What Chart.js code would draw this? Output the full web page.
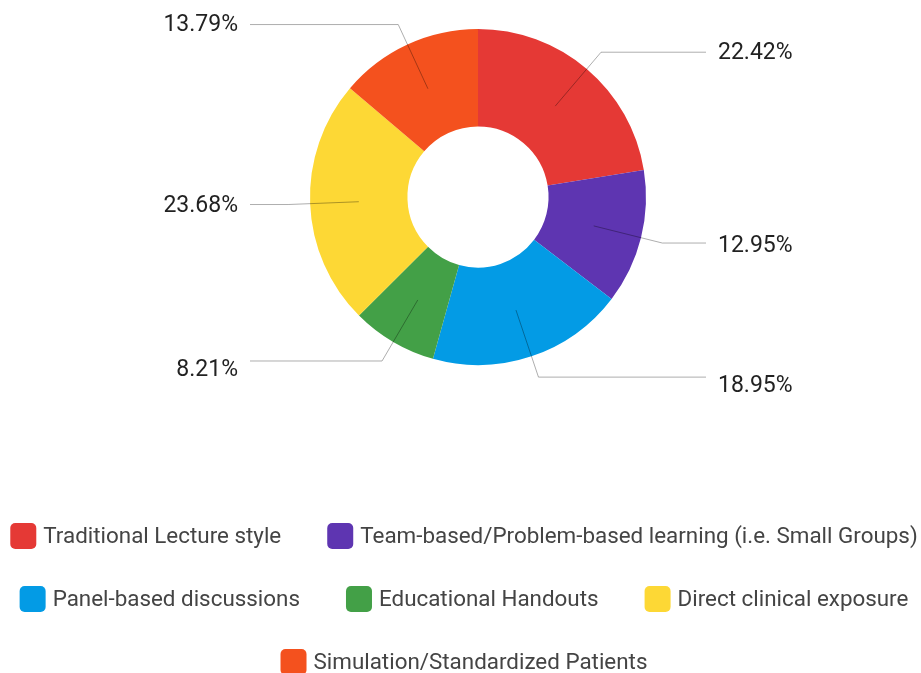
<!DOCTYPE html>
<html><head><meta charset="utf-8">
<script src="https://cdn.jsdelivr.net/npm/chart.js@4"></script>
<style>html,body{margin:0;padding:0;background:#fff;overflow:hidden;} #wrap{width:921px;height:673px;position:relative;}</style>
</head><body><div id="wrap"><canvas id="c" width="921" height="673"></canvas></div>
<script>
const categories = [
  'Traditional Lecture style',
  'Team-based/Problem-based learning (i.e. Small Groups)',
  'Panel-based discussions',
  'Educational Handouts',
  'Direct clinical exposure',
  'Simulation/Standardized Patients'
];
const values = [22.42, 12.95, 18.95, 8.21, 23.68, 13.79];
const colors = ['#E53935', '#5E35B1', '#039BE5', '#43A047', '#FDD835', '#F4511E'];

const LABEL_FONT = '23px Roboto';
const LEGEND_FONT = '22.4px Roboto';

const leaderLabels = {
  id: 'leaderLabels',
  afterDatasetsDraw(chart) {
    const ctx = chart.ctx;
    const meta = chart.getDatasetMeta(0);
    const data = chart.data.datasets[0].data;
    const total = data.reduce((a, b) => a + b, 0);
    ctx.save();
    meta.data.forEach((arc, i) => {
      const p = arc.getProps(['x', 'y', 'startAngle', 'endAngle', 'innerRadius', 'outerRadius'], true);
      const mid = (p.startAngle + p.endAngle) / 2;
      const rIn = (p.innerRadius + p.outerRadius) / 2;
      const rEl = p.outerRadius + 22;
      const sx = p.x + Math.cos(mid) * rIn, sy = p.y + Math.sin(mid) * rIn;
      const ex = p.x + Math.cos(mid) * rEl, ey = p.y + Math.sin(mid) * rEl;
      const right = Math.cos(mid) >= 0;
      const lx = right ? p.x + 228 : p.x - 228;
      ctx.strokeStyle = 'rgba(0,0,0,0.32)';
      ctx.lineWidth = 1;
      ctx.beginPath();
      ctx.moveTo(sx, sy);
      ctx.lineTo(ex, ey);
      ctx.lineTo(lx, ey);
      ctx.stroke();
      const pct = (data[i] / total * 100).toFixed(2) + '%';
      ctx.font = LABEL_FONT;
      ctx.fillStyle = '#222';
      ctx.textBaseline = 'middle';
      ctx.textAlign = right ? 'left' : 'right';
      const dy = Math.max(0, Math.sin(mid)) * 9;
      ctx.fillText(pct, right ? lx + 12 : lx - 12, ey + dy + 1);
    });
    ctx.restore();
  }
};

const bottomLegend = {
  id: 'bottomLegend',
  afterDraw(chart) {
    const ctx = chart.ctx;
    const ds = chart.data.datasets[0];
    const labels = chart.data.labels;
    const box = 26, gapText = 7, gapItem = 46, maxW = 917, cx = 464, y0 = 536, rowH = 63;
    ctx.save();
    ctx.font = LEGEND_FONT;
    const items = labels.map((t, i) => ({ t, c: ds.backgroundColor[i], w: box + gapText + ctx.measureText(t).width }));
    const rows = [];
    let cur = [], curW = 0;
    items.forEach(it => {
      const add = cur.length ? gapItem + it.w : it.w;
      if (cur.length && curW + add > maxW) { rows.push({ items: cur, w: curW }); cur = [it]; curW = it.w; }
      else { cur.push(it); curW += add; }
    });
    if (cur.length) rows.push({ items: cur, w: curW });
    rows.forEach((row, r) => {
      const y = y0 + r * rowH;
      let x = cx - row.w / 2;
      row.items.forEach(it => {
        ctx.fillStyle = it.c;
        ctx.beginPath();
        ctx.roundRect(x, y - box / 2, box, box, 5);
        ctx.fill();
        ctx.fillStyle = '#444';
        ctx.textAlign = 'left';
        ctx.textBaseline = 'middle';
        ctx.fillText(it.t, x + box + gapText, y + 1);
        x += it.w + gapItem;
      });
    });
    ctx.restore();
  }
};

new Chart(document.getElementById('c'), {
  type: 'doughnut',
  data: {
    labels: categories,
    datasets: [{
      data: values,
      backgroundColor: colors,
      borderWidth: 0,
      hoverOffset: 0
    }]
  },
  options: {
    responsive: false,
    devicePixelRatio: 1,
    animation: false,
    cutout: '42%',
    layout: { padding: { left: 310, right: 275, top: 29, bottom: 308 } },
    plugins: {
      legend: { display: false },
      tooltip: { enabled: false }
    }
  },
  plugins: [leaderLabels, bottomLegend]
});
</script>
</body></html>
